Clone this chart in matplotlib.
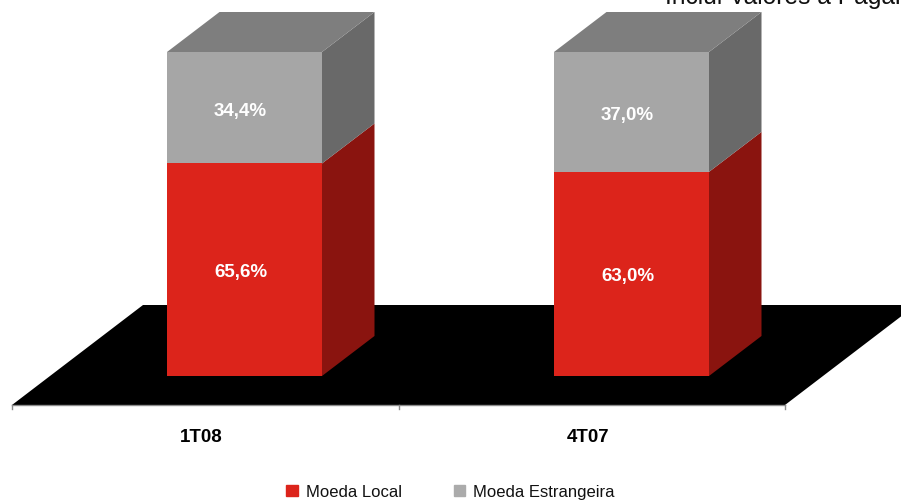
import matplotlib
matplotlib.use('Agg')
import matplotlib.pyplot as plt
from matplotlib.patches import Patch
import numpy as np

# values
categories = ['1T08', '4T07']
moeda_local = [65.6, 63.0]
moeda_estrangeira = [34.4, 37.0]
labels_local = ['65,6%', '63,0%']
labels_estrangeira = ['34,4%', '37,0%']

RED, RED_SIDE = '#DC241B', '#8A140F'
GRAY, GRAY_SIDE, GRAY_TOP = '#A6A6A6', '#696969', '#7E7E7E'

plt.rcParams['font.family'] = ['Liberation Sans', 'DejaVu Sans']

fig = plt.figure(figsize=(9.01, 5.02), dpi=100)
ax = fig.add_axes([0, 0, 1, 1])
# 387 px per category, 3.24 px per percent, bar base 377 px from top
ax.set_xlim(-244.5/387, (901-244.5)/387)
ax.set_ylim(-125/3.24, 377/3.24)
ax.axis('off')

w = 155/387
dx, dy = 52.5/387, 40/3.24

# floor
x0, x1 = -232.5/387, 540.5/387
y0 = -29/3.24
fdx, fdy = 131/387, 100/3.24
ax.fill([x0, x1, x1+fdx, x0+fdx], [y0, y0, y0+fdy, y0+fdy], color='black', lw=0, zorder=1)
ax.plot([x0, x1], [y0, y0], color='#8C8C8C', lw=1, zorder=1)
for xt in [x0, (x0+x1)/2, x1]:
    ax.plot([xt, xt], [y0, y0-4/3.24], color='#8C8C8C', lw=1, zorder=1)

xs = np.arange(len(categories))
local = np.array(moeda_local)
foreign = np.array(moeda_estrangeira)
ax.bar(xs, local, width=w, color=RED, zorder=3)
ax.bar(xs, foreign, width=w, bottom=local, color=GRAY, zorder=3)

for i, x in enumerate(xs):
    r = x + w/2
    l = x - w/2
    top = local[i] + foreign[i]
    ax.fill([r, r+dx, r+dx, r], [0, dy, local[i]+dy, local[i]], color=RED_SIDE, lw=0, zorder=2)
    ax.fill([r, r+dx, r+dx, r], [local[i], local[i]+dy, top+dy, top], color=GRAY_SIDE, lw=0, zorder=2)
    ax.fill([l, r, r+dx, l+dx], [top, top, top+dy, top+dy], color=GRAY_TOP, lw=0, zorder=2)
    ax.text(x-4/387, local[i]/2-0.4, labels_local[i], color='white', fontsize=13.5, fontweight='bold', ha='center', va='center', zorder=4)
    ax.text(x-4/387, local[i]+foreign[i]/2-0.8, labels_estrangeira[i], color='white', fontsize=13.5, fontweight='bold', ha='center', va='center', zorder=4)
    ax.text(x-43/387, (377-438)/3.24, categories[i], color='black', fontsize=13.5, fontweight='bold', ha='center', va='center')

# cut by the top edge of the image, as in the source
ax.text(665/901, 1-4/502, 'Inclui Valores a Pagar', transform=ax.transAxes, fontsize=17.7, ha='left', va='baseline', color='#111111')

leg = ax.legend(handles=[Patch(color=RED, label='Moeda Local'), Patch(color='#ABABAB', label='Moeda Estrangeira')],
                loc='center', bbox_to_anchor=(450.5/901, 1-493/502), ncol=2, frameon=False, fontsize=12,
                handlelength=0.68, handleheight=0.68, handletextpad=0.5, columnspacing=3.1, borderpad=0, labelcolor='#111111')

plt.savefig('out.png', dpi=100)
